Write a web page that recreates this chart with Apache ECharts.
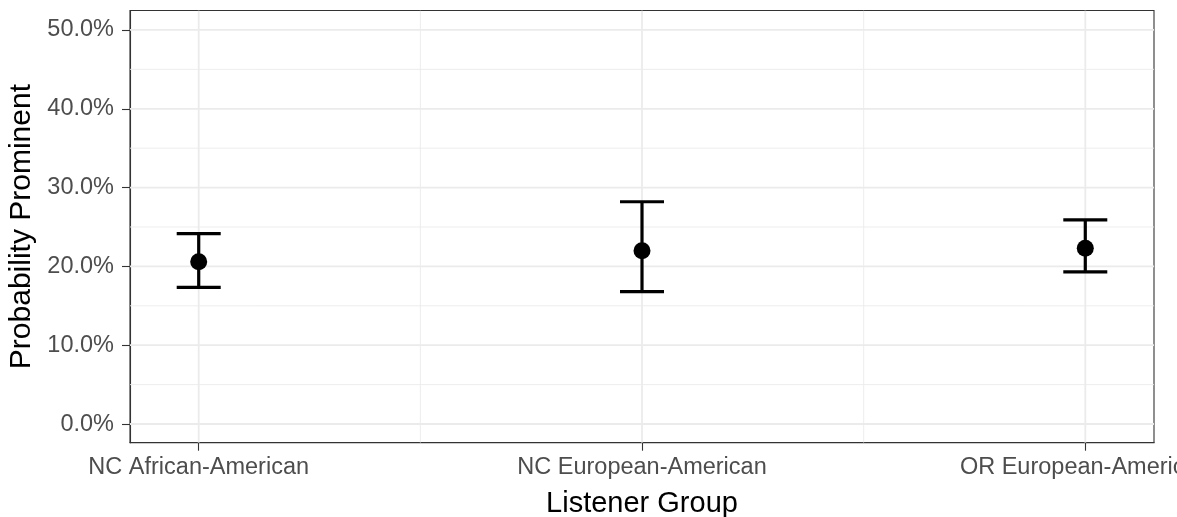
<!DOCTYPE html>
<html>
<head>
<meta charset="utf-8">
<script src="https://cdn.jsdelivr.net/npm/echarts@6/dist/echarts.min.js"></script>
<style>
  html, body { margin: 0; padding: 0; background: #fff; overflow: hidden; }
  #chart { width: 1177px; height: 517px; }
</style>
</head>
<body>
<div id="chart"></div>
<script>
const groups = ['NC African-American', 'NC European-American', 'OR European-American']
const estimate = [20.6, 22.0, 22.3]
const lower = [17.35, 16.8, 19.3]
const upper = [24.15, 28.2, 25.9]
const yTicks = [0, 10, 20, 30, 40, 50]
const yMinor = [5, 15, 25, 35, 45]
const xTicks = [0, 1, 2]
const xMinor = [0.5, 1.5]

const font = 'Liberation Sans, Arial, Helvetica, sans-serif'
const chart = echarts.init(document.getElementById('chart'))

// panel grid lines, drawn under the marks
function renderGrid(params, api) {
    const cs = params.coordSys
    const left = cs.x, right = cs.x + cs.width
    const top = cs.y, bottom = cs.y + cs.height
    const children = []
    const add = (vals, w, horiz) => vals.forEach(v => {
        if (horiz) {
            const y = api.coord([0, v])[1]
            children.push({ type: 'line', shape: { x1: left, y1: y, x2: right, y2: y }, style: { stroke: '#EBEBEB', lineWidth: w } })
        } else {
            const x = api.coord([v, 0])[0]
            children.push({ type: 'line', shape: { x1: x, y1: top, x2: x, y2: bottom }, style: { stroke: '#EBEBEB', lineWidth: w } })
        }
    })
    add(yMinor, 0.9, true)
    add(xMinor, 0.9, false)
    add(yTicks, 1.8, true)
    add(xTicks, 1.8, false)
    return { type: 'group', children: children }
}

const option = {
    animation: false,
    backgroundColor: '#fff',
    grid: {
        left: 130, right: 23, top: 10.5, bottom: 74.3,
        outerBoundsMode: 'none',
        containLabel: false,
        show: true, borderColor: '#333333', borderWidth: 1.1,
        backgroundColor: 'transparent'
    },
    xAxis: {
        type: 'value',
        min: -0.155,
        max: 2.155,
        name: 'Listener Group',
        nameLocation: 'middle',
        nameGap: 47,
        nameTextStyle: { fontFamily: font, fontSize: 29, color: '#000' },
        axisLine: { show: true, onZero: false, lineStyle: { color: '#333', width: 1.1 } },
        splitLine: { show: false },
        axisTick: { show: true, customValues: xTicks, length: 8, lineStyle: { color: '#333', width: 1.1 } },
        axisLabel: {
            customValues: xTicks,
            margin: 13,
            hideOverlap: false,
            fontFamily: font, fontSize: 23.5, color: '#4D4D4D',
            formatter: v => groups[Math.round(v)]
        }
    },
    yAxis: {
        type: 'value',
        min: -2.37,
        max: 52.47,
        name: 'Probability Prominent',
        nameLocation: 'middle',
        nameGap: 91,
        nameTextStyle: { fontFamily: font, fontSize: 30, color: '#000' },
        axisLine: { show: true, onZero: false, lineStyle: { color: '#333', width: 1.1 } },
        splitLine: { show: false },
        axisTick: { show: true, customValues: yTicks, length: 8, lineStyle: { color: '#333', width: 1.1 } },
        axisLabel: {
            customValues: yTicks,
            margin: 16,
            fontFamily: font, fontSize: 23.5, color: '#4D4D4D',
            formatter: v => v.toFixed(1) + '%'
        }
    },
    series: [
        {
            type: 'custom',
            z: 1,
            silent: true,
            clip: true,
            data: [[0, 0]],
            renderItem: renderGrid
        },
        {
            type: 'custom',
            z: 3,
            data: groups.map((g, i) => [i, lower[i], upper[i]]),
            renderItem: function (params, api) {
                const x = api.value(0)
                const lo = api.coord([x, api.value(1)])
                const hi = api.coord([x, api.value(2)])
                const half = 22
                const style = { stroke: '#000', lineWidth: 3.2, fill: null }
                return {
                    type: 'group',
                    children: [
                        { type: 'line', shape: { x1: lo[0], y1: lo[1], x2: hi[0], y2: hi[1] }, style: style },
                        { type: 'line', shape: { x1: lo[0] - half, y1: lo[1], x2: lo[0] + half, y2: lo[1] }, style: style },
                        { type: 'line', shape: { x1: hi[0] - half, y1: hi[1], x2: hi[0] + half, y2: hi[1] }, style: style }
                    ]
                }
            }
        },
        {
            type: 'scatter',
            z: 4,
            symbol: 'circle',
            symbolSize: 17,
            itemStyle: { color: '#000', opacity: 1 },
            data: groups.map((g, i) => [i, estimate[i]])
        }
    ]
}

chart.setOption(option)
</script>
</body>
</html>
